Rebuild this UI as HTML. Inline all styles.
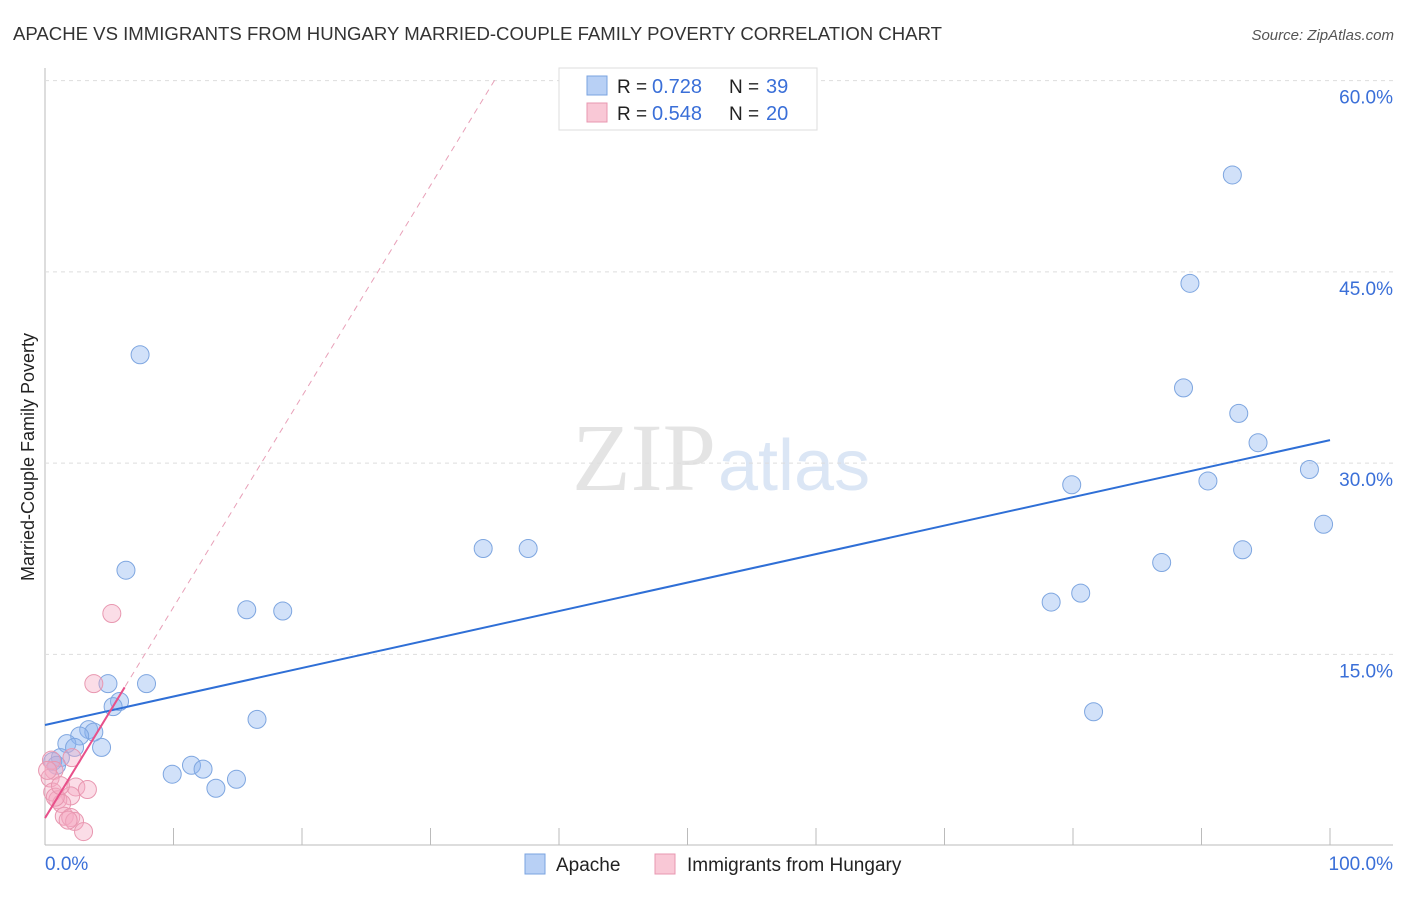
<!DOCTYPE html>
<html><head><meta charset="utf-8"><style>
body{margin:0;background:#fff;font-family:"Liberation Sans",sans-serif}
</style></head><body>
<svg id="chart" width="1406" height="892" xmlns="http://www.w3.org/2000/svg" font-family="Liberation Sans, sans-serif">
<text x="13" y="40" font-size="18" fill="#333" textLength="929" lengthAdjust="spacingAndGlyphs">APACHE VS IMMIGRANTS FROM HUNGARY MARRIED-COUPLE FAMILY POVERTY CORRELATION CHART</text>
<text x="1394" y="40" font-size="15" fill="#555" text-anchor="end" font-style="italic">Source: ZipAtlas.com</text>
<text x="716" y="490" font-size="96" fill="#e4e4e4" text-anchor="end" font-family="Liberation Serif, serif">ZIP</text>
<text x="718" y="490" font-size="72" fill="#dbe6f5">atlas</text>
<text transform="translate(34,457) rotate(-90)" font-size="18" fill="#222" text-anchor="middle">Married-Couple Family Poverty</text>
<g id="grid"></g><g id="marks"></g>
<g>
<rect x="559" y="68" width="258" height="62" fill="#fff" stroke="#ddd"/>
<rect x="587" y="76" width="20" height="19" fill="#b8d0f5" stroke="#7aa3e0"/>
<text x="617" y="93" font-size="19" fill="#222">R =</text><text x="652" y="93" font-size="20" fill="#3a6fd8">0.728</text>
<text x="729" y="93" font-size="19" fill="#222">N =</text><text x="766" y="93" font-size="20" fill="#3a6fd8">39</text>
<rect x="587" y="103" width="20" height="19" fill="#f9c8d6" stroke="#e897b0"/>
<text x="617" y="120" font-size="19" fill="#222">R =</text><text x="652" y="120" font-size="20" fill="#3a6fd8">0.548</text>
<text x="729" y="120" font-size="19" fill="#222">N =</text><text x="766" y="120" font-size="20" fill="#3a6fd8">20</text>
</g>
<g>
<rect x="525" y="854" width="20" height="20" fill="#b8d0f5" stroke="#7aa3e0"/>
<text x="556" y="871" font-size="19" fill="#222">Apache</text>
<rect x="655" y="854" width="20" height="20" fill="#f9c8d6" stroke="#e897b0"/>
<text x="687" y="871" font-size="19" fill="#222">Immigrants from Hungary</text>
</g>
</svg>
<script>
const yTicks=[15,30,45,60];
const yTickLabels=["15.0%","30.0%","45.0%","60.0%"];
const xTickLabels=["0.0%","100.0%"];
const apacheX=[92.4,89.1,7.4,88.6,92.9,94.4,98.4,79.9,90.5,99.5,34.1,37.6,93.2,86.9,6.3,80.6,78.3,15.7,18.5,4.9,7.9,5.8,5.3,16.5,81.6,3.4,3.8,2.7,1.7,2.3,4.4,1.2,0.6,0.9,11.4,12.3,9.9,14.9,13.3];
const apacheY=[52.6,44.1,38.5,35.9,33.9,31.6,29.5,28.3,28.6,25.2,23.3,23.3,23.2,22.2,21.6,19.8,19.1,18.5,18.4,12.7,12.7,11.3,10.9,9.9,10.5,9.1,8.9,8.6,8.0,7.7,7.7,6.9,6.6,6.3,6.3,6.0,5.6,5.2,4.5];
const hungX=[5.2,3.8,0.5,2.1,0.7,0.4,2.4,3.3,0.6,2.0,1.0,1.3,0.8,1.5,2.0,2.3,1.8,3.0,0.2,1.2];
const hungY=[18.2,12.7,6.7,6.9,5.9,5.3,4.6,4.4,4.2,3.9,3.6,3.3,3.8,2.3,2.2,1.9,2.0,1.1,5.9,4.7];
const apacheFit=[9.46,31.8];
const hungFit=[2.16,1.654];
const X=v=>45+v*12.85, Y=v=>845.6-v*12.75;
const NS="http://www.w3.org/2000/svg";
function mk(t,a,p){const e=document.createElementNS(NS,t);for(const k in a)e.setAttribute(k,a[k]);p.appendChild(e);return e;}
const g=document.getElementById('grid'),m=document.getElementById('marks');
let ax=mk('line',{x1:45,y1:68,x2:45,y2:845,stroke:'#bbb'},g);


let bx=mk('line',{x1:45,y1:845,x2:1393,y2:845,stroke:'#bbb'},g);


yTicks.forEach((v,i)=>{
 const l=mk('line',{x1:45,x2:1393,y1:Y(v),y2:Y(v),stroke:'#ddd','stroke-dasharray':'4,4'},g);
 
 
 const t=mk('text',{x:1393,y:Y(v)+23,'font-size':19,fill:'#3a6fd8','text-anchor':'end'},g);t.textContent=yTickLabels[i];
 
 
});
for(let i=1;i<=10;i++){const l=mk('line',{x1:X(i*10),x2:X(i*10),y1:828,y2:845,stroke:'#bbb'},g);
 
 }
[[0,'start',45],[100,'end',1393]].forEach((d,i)=>{const t=mk('text',{x:d[2],y:870,'font-size':19,fill:'#3a6fd8','text-anchor':d[1]},g);t.textContent=xTickLabels[i];
 
 });
const pd=mk('line',{x1:X(0),y1:Y(hungFit[0]),x2:X(35),y2:Y(hungFit[0]+hungFit[1]*35),stroke:'#e8a0b8','stroke-dasharray':'6,5'},m);


apacheX.forEach((v,i)=>{const c=mk('circle',{cx:X(v),cy:Y(apacheY[i]),r:9,fill:'rgba(140,180,240,0.4)',stroke:'#7ea6e0','stroke-width':1},m);
 
 });
hungX.forEach((v,i)=>{const c=mk('circle',{cx:X(v),cy:Y(hungY[i]),r:9,fill:'rgba(245,170,195,0.4)',stroke:'#e897b0','stroke-width':1},m);
 
 });
const bl=mk('line',{x1:X(0),y1:Y(apacheFit[0]),x2:X(100),y2:Y(apacheFit[1]),stroke:'#2f6fd6','stroke-width':2},m);


const pl=mk('line',{x1:X(0),y1:Y(hungFit[0]),x2:X(6.2),y2:Y(hungFit[0]+hungFit[1]*6.2),stroke:'#e8508a','stroke-width':2},m);


</script>
</body></html>
